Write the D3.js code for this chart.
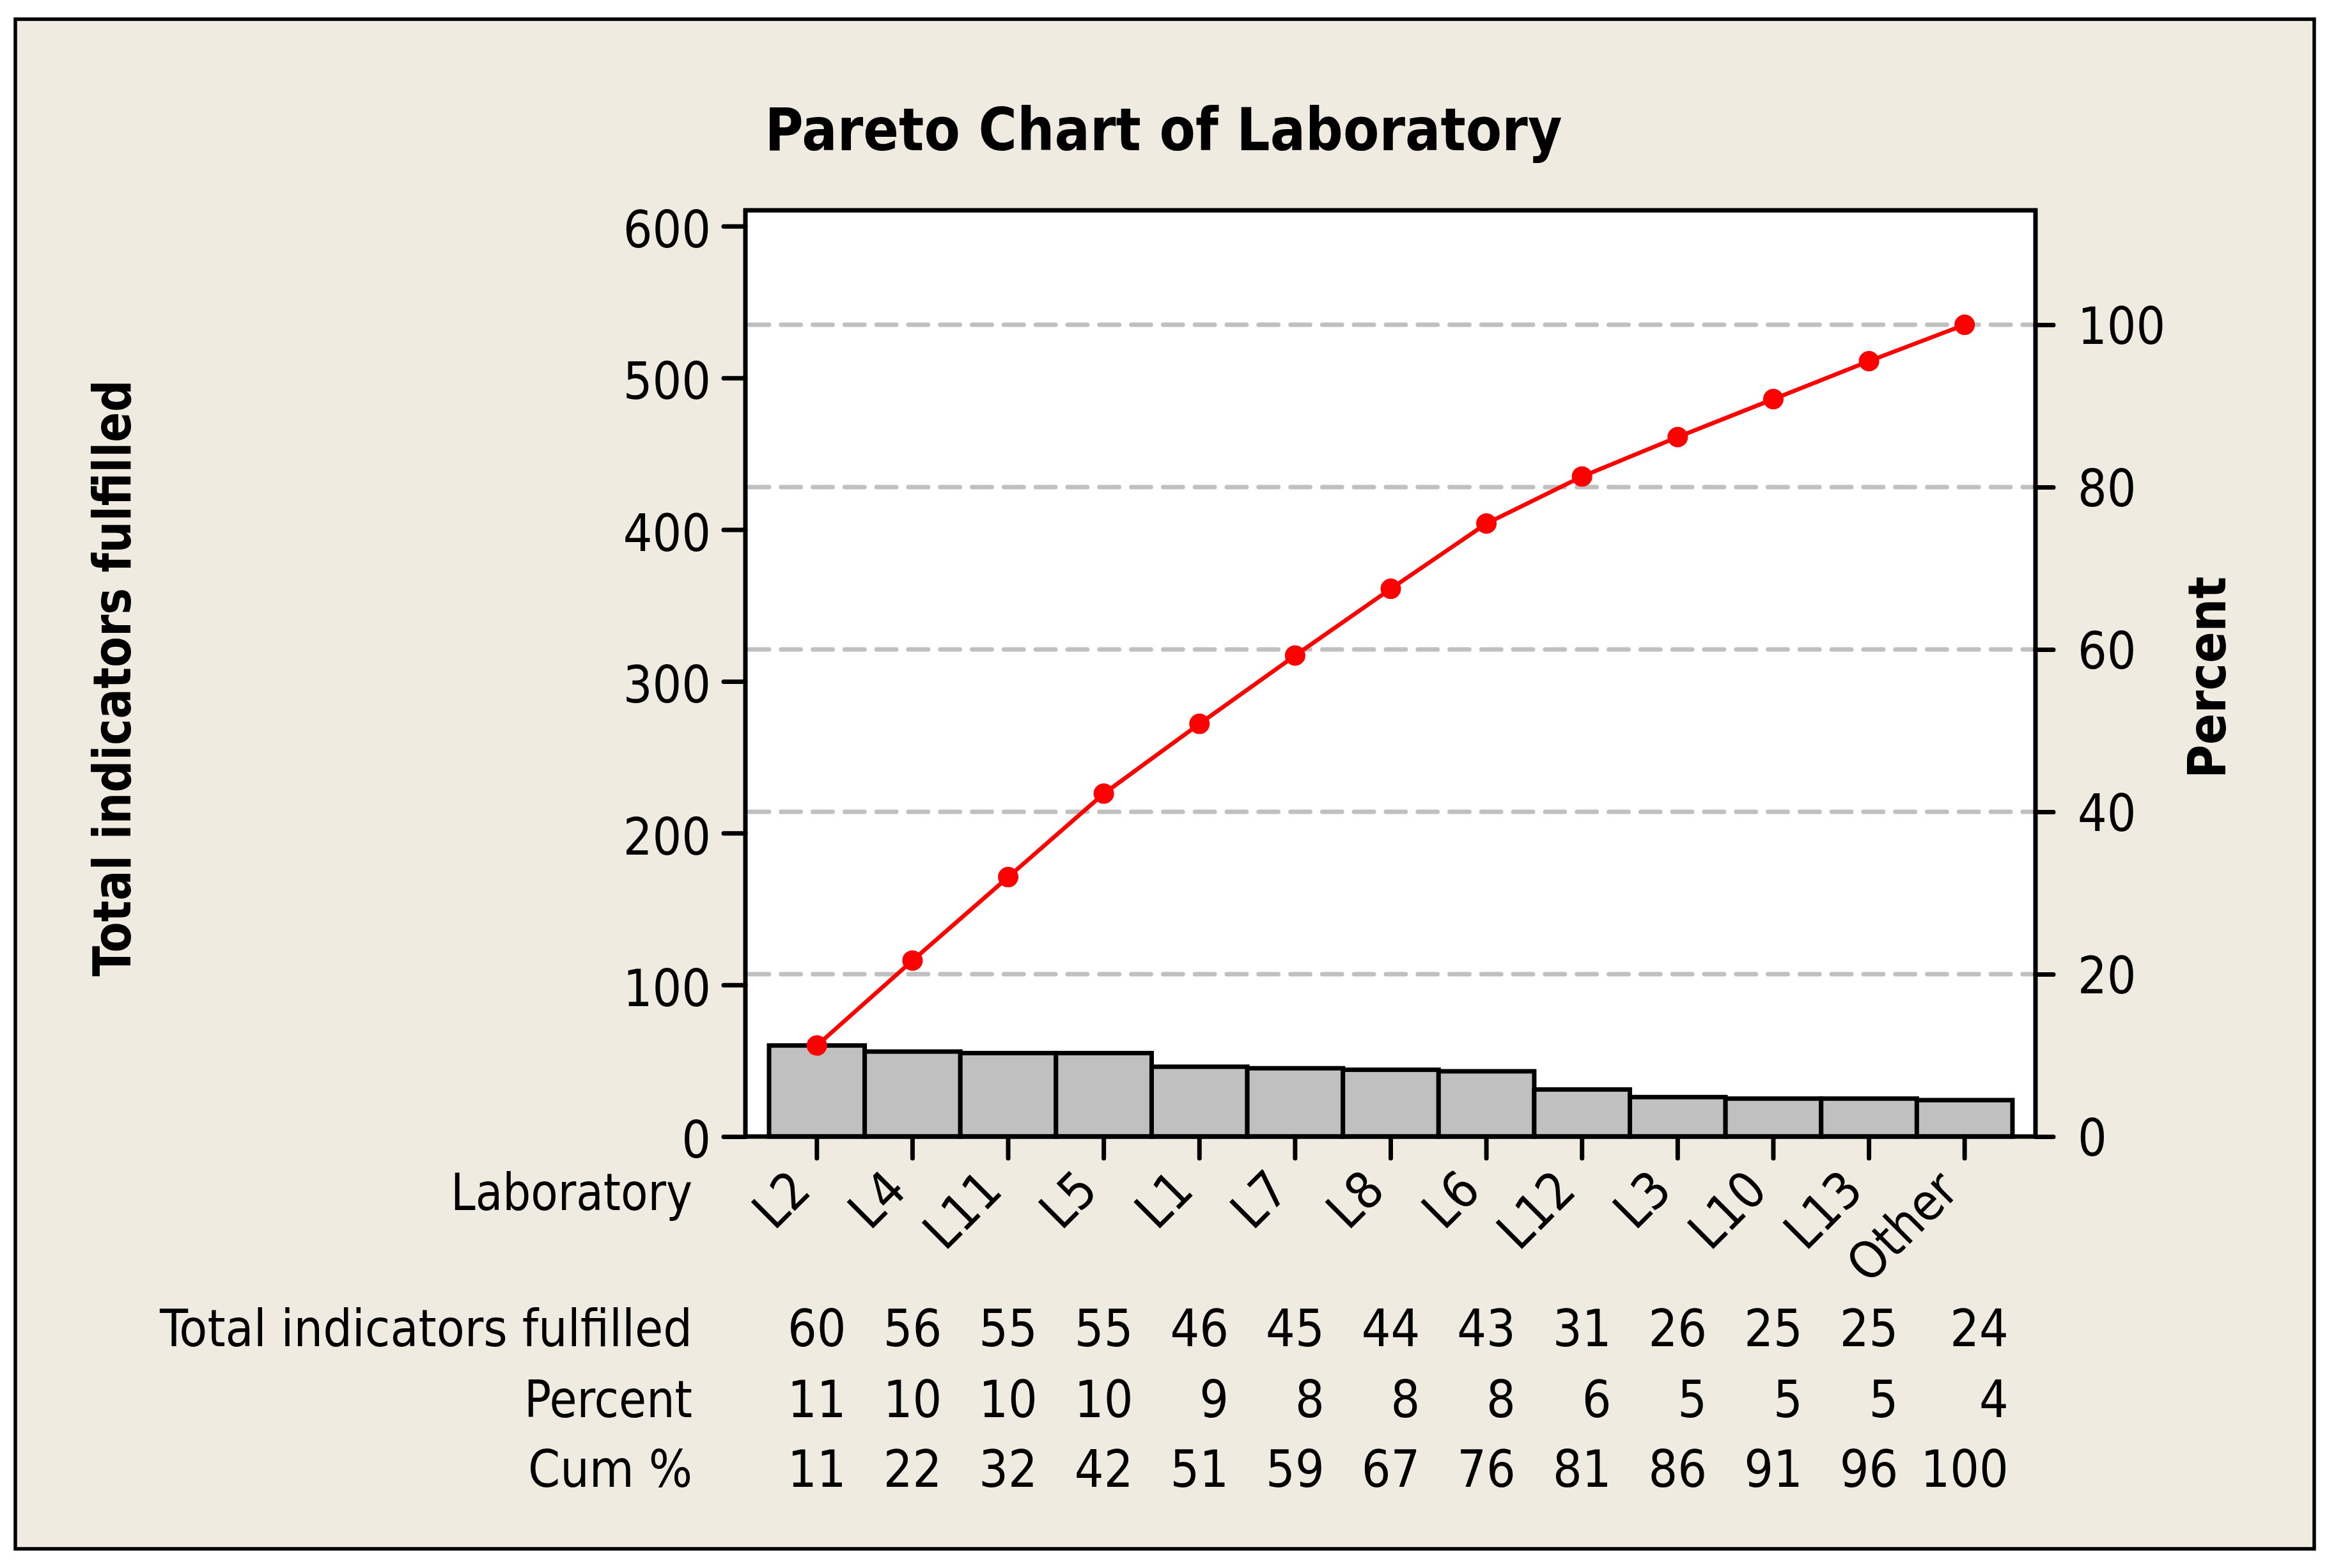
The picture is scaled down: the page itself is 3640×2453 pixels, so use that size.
<!DOCTYPE html>
<html>
<head>
<meta charset="utf-8">
<script src="https://cdn.jsdelivr.net/npm/d3@7"></script>
<style>
  html, body { margin: 0; padding: 0; background: #ffffff; }
  svg { display: block; }
  .reg { font-family: "DejaVu Sans Condensed", "DejaVu Sans", sans-serif; font-stretch: condensed; }
  .bold { font-family: "DejaVu Sans Condensed", "DejaVu Sans", sans-serif; font-stretch: condensed; font-weight: bold; }
</style>
</head>
<body>
<script>
// ---- data ----
const categories   = ["L2","L4","L11","L5","L1","L7","L8","L6","L12","L3","L10","L13","Other"];
const counts       = [60, 56, 55, 55, 46, 45, 44, 43, 31, 26, 25, 25, 24];
const percents     = [11, 10, 10, 10, 9, 8, 8, 8, 6, 5, 5, 5, 4];
const cumPercents  = [11, 22, 32, 42, 51, 59, 67, 76, 81, 86, 91, 96, 100];
const leftTicks    = [0, 100, 200, 300, 400, 500, 600];
const rightTicks   = [0, 20, 40, 60, 80, 100];
const rowLabels    = ["Total indicators fulfilled", "Percent", "Cum %"];
const titleText    = "Pareto Chart of Laboratory";
const yLabelText   = "Total indicators fulfilled";
const y2LabelText  = "Percent";
const xLabelText   = "Laboratory";

// ---- layout ----
const W = 3640, H = 2453;
const plot = { left: 1166, right: 3184, top: 329, bottom: 1778 };
const total = d3.sum(counts);
const cum = d3.cumsum(counts);
const topValue = total * 1.141;
const SW = 7;

const svg = d3.select("body").append("svg").attr("width", W).attr("height", H);

// backgrounds
svg.append("rect").attr("x", 0).attr("y", 0).attr("width", W).attr("height", H).attr("fill", "#ffffff");
svg.append("rect").attr("x", 24).attr("y", 30).attr("width", 3596).attr("height", 2393)
  .attr("fill", "#EFEBE1").attr("stroke", "#000").attr("stroke-width", 5.5);
svg.append("rect").attr("x", plot.left).attr("y", plot.top)
  .attr("width", plot.right - plot.left).attr("height", plot.bottom - plot.top).attr("fill", "#ffffff");

// scales
const x = d3.scaleBand().domain(categories).range([plot.left + 37, plot.right - 36]).padding(0);
const y = d3.scaleLinear().domain([0, topValue]).range([plot.bottom, plot.top]);
const yPct = d3.scaleLinear().domain([0, topValue / total * 100]).range([plot.bottom, plot.top]);

// grid lines (dashed, at right-axis ticks)
svg.append("g").selectAll("line").data(rightTicks.filter(d => d > 0)).join("line")
  .attr("x1", plot.left + 6).attr("x2", plot.right - 4)
  .attr("y1", d => yPct(d)).attr("y2", d => yPct(d))
  .attr("stroke", "#C0C0C0").attr("stroke-width", 7)
  .attr("stroke-linecap", "round").attr("stroke-dasharray", "30.8,19");

// bars
svg.append("g").selectAll("rect").data(categories).join("rect")
  .attr("x", d => x(d)).attr("width", x.bandwidth())
  .attr("y", (d, i) => y(counts[i])).attr("height", (d, i) => y(0) - y(counts[i]))
  .attr("fill", "#C0C0C0").attr("stroke", "#000").attr("stroke-width", SW);

// cumulative line
const cx = d => x(d) + x.bandwidth() / 2;
const line = d3.line().x(d => cx(d)).y((d, i) => y(cum[i]));
svg.append("path").datum(categories).attr("d", line)
  .attr("fill", "none").attr("stroke", "#FF0000").attr("stroke-width", 6.5);
svg.append("g").selectAll("circle").data(categories).join("circle")
  .attr("cx", d => cx(d)).attr("cy", (d, i) => y(cum[i])).attr("r", 16).attr("fill", "#FF0000");

// frame
svg.append("rect").attr("x", plot.left).attr("y", plot.top)
  .attr("width", plot.right - plot.left).attr("height", plot.bottom - plot.top)
  .attr("fill", "none").attr("stroke", "#000").attr("stroke-width", SW);

// axes
function styleAxis(g) {
  g.select(".domain").remove();
  g.attr("font-family", null).attr("font-size", null);
  g.selectAll(".tick line").attr("stroke", "#000").attr("stroke-width", SW).attr("stroke-linecap", "round");
  g.selectAll(".tick text").attr("class", "reg").attr("fill", "#000").style("font-size", "80px");
}
const gL = svg.append("g").attr("transform", `translate(${plot.left},0)`)
  .call(d3.axisLeft(y).tickValues(leftTicks).tickSize(34).tickPadding(20).tickFormat(d3.format("d")));
styleAxis(gL);
gL.selectAll(".tick text").attr("dy", "0.41em");

const gR = svg.append("g").attr("transform", `translate(${plot.right},0)`)
  .call(d3.axisRight(yPct).tickValues(rightTicks).tickSize(28).tickPadding(38).tickFormat(d3.format("d")));
styleAxis(gR);
gR.selectAll(".tick text").attr("dy", "0.37em");

const gB = svg.append("g").attr("transform", `translate(0,${plot.bottom})`)
  .call(d3.axisBottom(x).tickSize(34).tickSizeOuter(0));
styleAxis(gB);
gB.selectAll(".tick text")
  .attr("x", 0).attr("y", 0).attr("dy", 0)
  .attr("transform", "translate(-6,88) rotate(-45)")
  .style("text-anchor", "end");

// titles
svg.append("text").attr("class", "bold").attr("x", 1820).attr("y", 235)
  .attr("text-anchor", "middle").style("font-size", "93px")
  .attr("textLength", 1247).attr("lengthAdjust", "spacingAndGlyphs").text(titleText);
svg.append("text").attr("class", "bold")
  .attr("transform", "translate(204,1061) rotate(-90)")
  .attr("text-anchor", "middle").style("font-size", "82px")
  .attr("textLength", 933).attr("lengthAdjust", "spacingAndGlyphs").text(yLabelText);
svg.append("text").attr("class", "bold")
  .attr("transform", "translate(3481,1060) rotate(-90)")
  .attr("text-anchor", "middle").style("font-size", "82px")
  .attr("textLength", 316).attr("lengthAdjust", "spacingAndGlyphs").text(y2LabelText);

// table labels
const labelRight = 1083;
const rowBase = [2106, 2217, 2326];
const rowLen = [833, 263, 257];
svg.append("text").attr("class", "reg").attr("x", labelRight).attr("y", 1893)
  .attr("text-anchor", "end").style("font-size", "80px")
  .attr("textLength", 378).attr("lengthAdjust", "spacingAndGlyphs").text(xLabelText);
rowLabels.forEach((t, i) => {
  svg.append("text").attr("class", "reg").attr("x", labelRight).attr("y", rowBase[i])
    .attr("text-anchor", "end").style("font-size", "80px")
    .attr("textLength", rowLen[i]).attr("lengthAdjust", "spacingAndGlyphs").text(t);
});

// measure digit advance
const probe = svg.append("text").attr("class", "reg").style("font-size", "80px").text("0000000000");
const digitW = probe.node().getComputedTextLength() / 10;
probe.remove();

// table numbers: each column is a right-aligned field centred on its tick
const rows = [counts, percents, cumPercents];
categories.forEach((c, j) => {
  const maxLen = d3.max(rows, r => String(r[j]).length);
  const right = cx(c) + maxLen * digitW / 2;
  rows.forEach((r, i) => {
    svg.append("text").attr("class", "reg").attr("x", right).attr("y", rowBase[i])
      .attr("text-anchor", "end").style("font-size", "80px").attr("fill", "#000").text(r[j]);
  });
});
</script>
</body>
</html>
